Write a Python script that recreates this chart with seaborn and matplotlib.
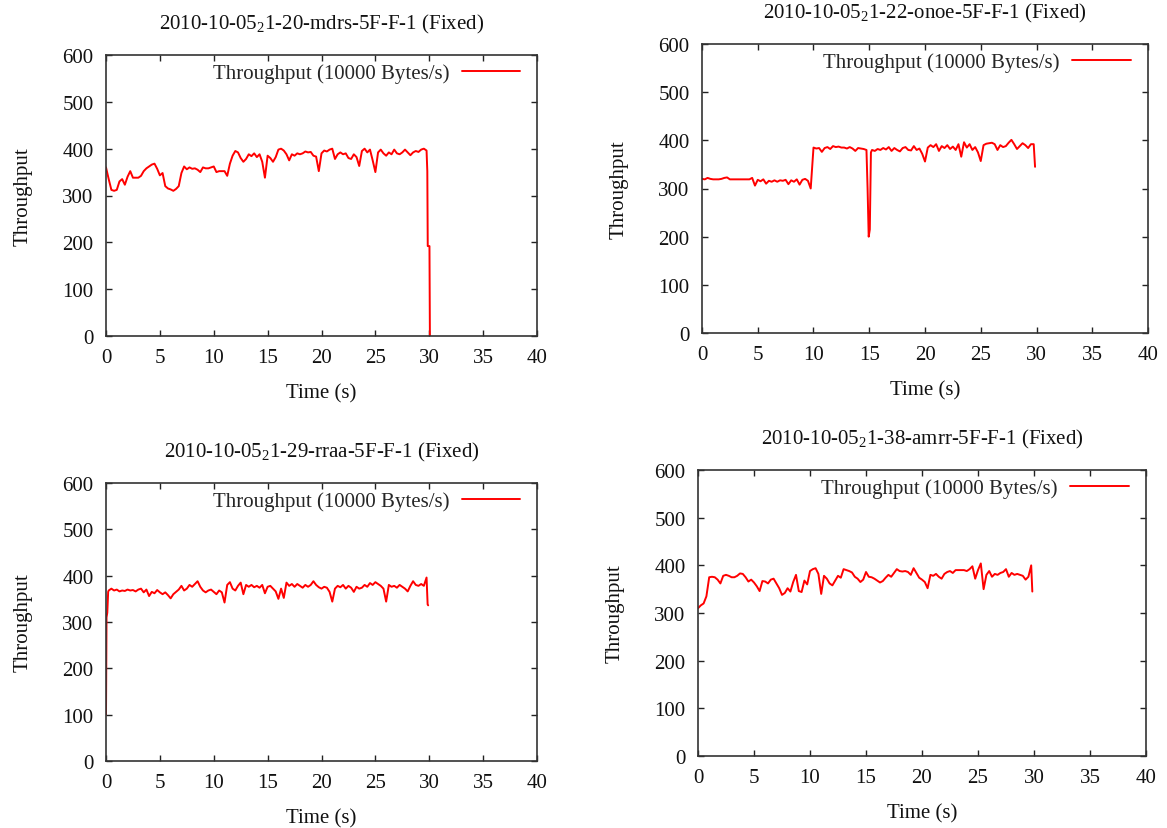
import numpy as np
import pandas as pd
import matplotlib
matplotlib.use("Agg")
import matplotlib.pyplot as plt
import seaborn as sns

sns.set_style("ticks")
plt.rcParams['font.family'] = ['Liberation Serif', 'DejaVu Serif']
plt.rcParams['mathtext.fontset'] = 'custom'
plt.rcParams['mathtext.rm'] = 'Liberation Serif'
plt.rcParams['mathtext.it'] = 'Liberation Serif'

titles = [r"2010-10-05$_\mathrm{2}$1-20-mdrs-5F-F-1 (Fixed)",
          r"2010-10-05$_\mathrm{2}$1-22-onoe-5F-F-1 (Fixed)",
          r"2010-10-05$_\mathrm{2}$1-29-rraa-5F-F-1 (Fixed)",
          r"2010-10-05$_\mathrm{2}$1-38-amrr-5F-F-1 (Fixed)"]
legend_label = "Throughput (10000 Bytes/s)"
xticks = [0, 5, 10, 15, 20, 25, 30, 35, 40]
yticks = [0, 100, 200, 300, 400, 500, 600]

# ---- mdrs ----
time_mdrs = list(np.arange(0, 29.8, 0.25)) + [29.82, 29.86, 30.02, 30.06]
thr_mdrs = [360, 335, 312, 310, 312, 330, 335, 323, 340, 352, 338, 338,
            338, 342, 352, 358, 362, 366, 368, 357, 343, 348, 320, 315,
            313, 310, 314, 320, 348, 362, 356, 360, 357, 358, 355, 350,
            360, 358, 358, 360, 362, 350, 352, 352, 352, 342, 368, 385,
            395, 392, 380, 372, 378, 388, 384, 390, 382, 388, 372, 338,
            385, 380, 372, 382, 398, 400, 396, 388, 375, 388, 385, 390,
            388, 390, 394, 392, 393, 385, 383, 352, 390, 396, 394, 398,
            400, 378, 388, 392, 388, 390, 380, 378, 388, 382, 363, 395,
            400, 392, 398, 375, 350, 392, 398, 390, 385, 392, 388, 398,
            390, 388, 392, 398, 392, 386, 392, 395, 393, 398, 400, 396,
            352, 192, 192, 0]

# ---- onoe ----
time_onoe = (list(np.arange(0, 14.8, 0.25)) + [14.85, 14.95, 15.05, 15.15]
             + list(np.arange(15.25, 29.8, 0.25)) + [29.87])
thr_onoe = [320, 319, 322, 320, 319, 319, 319, 320, 322, 323, 319, 319,
            319, 319, 319, 319, 319, 319, 322, 306, 318, 315, 319, 310,
            316, 314, 317, 314, 317, 316, 318, 309, 317, 314, 319, 308,
            318, 320, 316, 300, 385, 383, 384, 376, 384, 386, 382, 388,
            386, 387, 385, 385, 383, 386, 383, 378, 384, 383, 382, 380,
            300, 200, 215, 375,
            380, 378, 382, 380, 384, 381, 386, 378, 384, 380, 377, 384,
            386, 380, 379, 388, 380, 383, 372, 356, 385, 390, 386, 392,
            378, 388, 384, 390, 382, 387, 380, 392, 366, 396, 385, 392,
            380, 386, 375, 357, 390, 393, 394, 395, 392, 380, 390, 386,
            388, 395, 401, 392, 382, 388, 394, 390, 384, 392, 392,
            345]

# ---- rraa ----
time_rraa = [0, 0.05, 0.12, 0.2] + list(np.arange(0.25, 29.8, 0.25)) + [29.85, 29.9]
thr_rraa = [100, 310, 320, 365,
            368, 372, 368, 370, 366, 368, 367, 370, 368, 369, 366,
            370, 372, 364, 370, 356, 365, 362, 369, 364, 360, 364, 358,
            351, 360, 365, 370, 378, 368, 372, 380, 376, 382, 388, 376,
            368, 364, 368, 370, 365, 360, 368, 364, 342, 380, 386, 372,
            368, 378, 385, 360, 380, 376, 380, 375, 378, 374, 380, 362,
            376, 378, 372, 366, 350, 372, 352, 385, 378, 382, 376, 382,
            378, 374, 380, 376, 380, 388, 380, 375, 372, 376, 374, 365,
            344, 372, 378, 375, 380, 372, 378, 374, 365, 376, 372, 374,
            380, 376, 384, 380, 386, 382, 378, 372, 344, 380, 376, 378,
            374, 380, 376, 372, 366, 378, 388, 380, 378, 382, 378, 396,
            338, 336]

# ---- amrr ----
time_amrr = list(np.arange(0, 29.8, 0.25)) + [29.85]
thr_amrr = [310, 316, 320, 335, 375, 376, 375, 370, 362, 378, 380, 378,
            375, 375, 378, 383, 382, 375, 366, 370, 364, 356, 346, 367,
            366, 362, 370, 372, 362, 352, 338, 342, 352, 345, 365, 380,
            346, 344, 368, 360, 388, 392, 394, 382, 340, 378, 372, 362,
            358, 368, 378, 374, 392, 390, 388, 385, 376, 372, 365, 370,
            386, 376, 375, 372, 368, 364, 367, 374, 380, 376, 384, 392,
            388, 387, 388, 386, 380, 394, 384, 374, 370, 365, 352, 380,
            378, 382, 376, 372, 382, 386, 388, 384, 390, 390, 390, 390,
            388, 392, 398, 372, 390, 404, 350, 380, 388, 376, 382, 380,
            384, 386, 392, 376, 384, 380, 382, 380, 378, 370, 376, 400,
            345]

series = [(time_mdrs, thr_mdrs), (time_onoe, thr_onoe),
          (time_rraa, thr_rraa), (time_amrr, thr_amrr)]

W, H = 1167, 829
fig = plt.figure(figsize=(W / 100, H / 100), dpi=100)

# axes boxes in pixels: left, top, right, bottom
boxes = [(106, 56, 537, 337), (702, 45, 1148, 334),
         (106, 484, 537, 762), (698, 471, 1146, 757)]

FS = 15
for (l, t, r, b), title, (tt, vv) in zip(boxes, titles, series):
    ax = fig.add_axes([l / W, 1 - b / H, (r - l) / W, (b - t) / H])
    df = pd.DataFrame({"Time (s)": tt, "Throughput": vv})
    sns.lineplot(data=df, x="Time (s)", y="Throughput", ax=ax, color="#ff0000",
                 linewidth=1.4, label=legend_label, sort=False, estimator=None)
    ax.set_xlim(0, 40)
    ax.set_ylim(0, 600)
    ax.set_xticks(xticks)
    ax.set_yticks(yticks)
    ax.tick_params(direction="in", top=True, right=True, length=4.5,
                   width=1.0, labelsize=FS, pad=9, colors="#222222",
                   labelcolor="#111111")
    for s in ax.spines.values():
        s.set_linewidth(1.2)
        s.set_color("#333333")
    ax.set_xlabel("Time (s)", fontsize=FS, labelpad=11, color="#111111")
    ax.set_ylabel("Throughput", fontsize=FS, labelpad=21, color="#111111")
    ax.set_title(title, fontsize=FS, pad=19, color="#111111")
    ax.legend(loc="upper right", frameon=False, markerfirst=False,
              fontsize=FS, handlelength=2.8, borderaxespad=0.1,
              borderpad=0.3, handletextpad=0.6,
              bbox_to_anchor=(0.98, 1.0))

fig.savefig("out.png", dpi=100)
